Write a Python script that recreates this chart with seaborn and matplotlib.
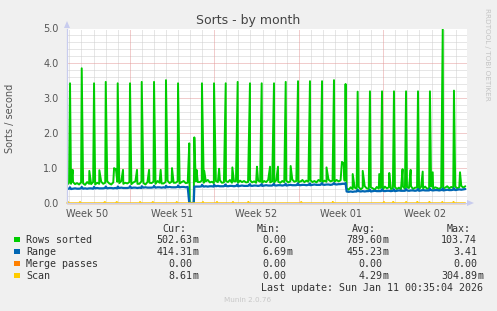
import numpy as np
import pandas as pd
import matplotlib
matplotlib.use("Agg")
import matplotlib.pyplot as plt
import seaborn as sns
from matplotlib.patches import Rectangle, Polygon

W, H = 497, 311

# ---------------- data (x in days from left edge) ----------------
x_end = 33.14
week_labels = ["Week 50", "Week 51", "Week 52", "Week 01", "Week 02"]
week_label_day = [1.7, 8.7, 15.7, 22.7, 29.7]
week_line_day = [5.2, 12.2, 19.2, 26.2]
day_line_day = [0.2 + k for k in range(33)]

# daily big spikes of "Rows sorted"
spike_day = [0.25, 1.22, 2.24, 3.21, 4.20, 5.22, 6.19, 7.21, 8.20, 9.20,
             10.13, 10.55, 11.18, 12.18, 13.15, 14.14, 15.16, 16.13, 17.15, 18.12,
             19.14, 20.13, 21.13, 22.12, 23.08, 24.08, 25.10, 26.10, 27.09, 28.09,
             29.08, 30.07, 31.13, 32.06]
spike_val = [3.43, 3.86, 3.43, 3.47, 3.43, 3.43, 3.47, 3.47, 3.52, 3.43,
             1.71, 1.88, 3.43, 3.43, 3.43, 3.47, 3.43, 3.43, 3.43, 3.47,
             3.49, 3.49, 3.49, 3.52, 3.41, 3.19, 3.20, 3.20, 3.20, 3.20,
             3.20, 3.20, 4.98, 3.22]
# "Range" value at the spike times
range_peak = [0.45, 0.46, 0.46, 0.47, 0.47, 0.48, 0.48, 0.49, 0.49, 0.50,
              0.00, 0.47, 0.52, 0.52, 0.53, 0.53, 0.54, 0.54, 0.55, 0.55,
              0.56, 0.56, 0.57, 0.57, 0.57, 0.38, 0.38, 0.39, 0.39, 0.40,
              0.40, 0.41, 0.41, 0.42]

# smaller secondary bumps of "Rows sorted"
bump_day = [0.47, 1.85, 2.68, 3.90, 4.05, 4.64, 5.80, 6.80, 7.76, 8.70,
            10.73, 11.37, 12.60, 13.70, 15.74, 16.82, 17.48, 18.53, 19.40, 21.50,
            22.78, 22.92, 23.67, 24.50, 25.87, 26.70, 27.80, 28.47, 29.47, 30.30,
            32.56]
bump_val = [0.95, 0.92, 0.94, 1.00, 0.98, 0.95, 0.95, 0.95, 0.95, 1.00,
            0.95, 0.92, 0.98, 1.02, 1.04, 1.04, 1.04, 1.06, 0.62, 1.02,
            1.18, 1.15, 0.83, 0.92, 0.83, 0.86, 0.97, 0.95, 0.90, 0.88,
            0.88]

# baseline readings, one row per day, every 4 hours
rows_base = [
    [0.52, 0.58, 0.55, 0.60, 0.54, 0.57],
    [0.53, 0.59, 0.56, 0.52, 0.60, 0.55],
    [0.54, 0.60, 0.53, 0.58, 0.55, 0.61],
    [0.55, 0.58, 0.62, 0.56, 0.53, 0.59],
    [0.97, 0.61, 0.57, 0.63, 0.55, 0.58],
    [0.56, 0.60, 0.54, 0.59, 0.62, 0.55],
    [0.55, 0.62, 0.57, 0.53, 0.60, 0.58],
    [0.57, 0.61, 0.55, 0.63, 0.58, 0.56],
    [0.56, 0.60, 0.64, 0.57, 0.61, 0.58],
    [0.58, 0.62, 0.56, 0.60, 0.63, 0.57],
    [0.58, 0.00, 0.00, 0.00, 0.62, 0.60],
    [0.60, 0.64, 0.58, 0.62, 0.66, 0.59],
    [0.61, 0.57, 0.63, 0.60, 0.65, 0.58],
    [0.59, 0.63, 0.60, 0.66, 0.58, 0.62],
    [0.62, 0.58, 0.64, 0.60, 0.63, 0.59],
    [0.60, 0.65, 0.59, 0.62, 0.58, 0.64],
    [0.61, 0.58, 0.63, 0.60, 0.66, 0.59],
    [0.62, 0.59, 0.65, 0.61, 0.58, 0.63],
    [0.60, 0.64, 0.59, 0.62, 0.67, 0.61],
    [0.63, 0.59, 0.62, 0.66, 0.60, 0.64],
    [0.61, 0.65, 0.60, 0.63, 0.59, 0.66],
    [0.62, 0.60, 0.64, 0.61, 0.67, 0.62],
    [0.64, 0.61, 0.66, 0.62, 0.65, 1.12],
    [0.64, 0.42, 0.38, 0.45, 0.40, 0.44],
    [0.41, 0.46, 0.39, 0.44, 0.48, 0.42],
    [0.40, 0.45, 0.42, 0.38, 0.46, 0.41],
    [0.43, 0.39, 0.47, 0.42, 0.45, 0.40],
    [0.42, 0.46, 0.40, 0.44, 0.39, 0.47],
    [0.41, 0.45, 0.43, 0.48, 0.40, 0.44],
    [0.44, 0.40, 0.46, 0.42, 0.47, 0.41],
    [0.42, 0.47, 0.41, 0.45, 0.43, 0.40],
    [0.45, 0.41, 0.44, 0.48, 0.42, 0.46],
    [0.43, 0.47, 0.42, 0.45, 0.49, 0.44],
    [0.48, 0.50],
]
range_base = [
    [0.40, 0.41, 0.40, 0.41, 0.42, 0.41],
    [0.41, 0.42, 0.41, 0.42, 0.41, 0.42],
    [0.42, 0.41, 0.42, 0.43, 0.42, 0.42],
    [0.42, 0.43, 0.42, 0.43, 0.43, 0.42],
    [0.43, 0.42, 0.43, 0.44, 0.43, 0.43],
    [0.43, 0.44, 0.43, 0.44, 0.44, 0.43],
    [0.44, 0.43, 0.44, 0.45, 0.44, 0.44],
    [0.44, 0.45, 0.44, 0.45, 0.45, 0.44],
    [0.45, 0.44, 0.45, 0.46, 0.45, 0.45],
    [0.45, 0.46, 0.45, 0.46, 0.46, 0.45],
    [0.46, 0.00, 0.00, 0.00, 0.47, 0.47],
    [0.47, 0.48, 0.47, 0.48, 0.47, 0.48],
    [0.48, 0.47, 0.48, 0.49, 0.48, 0.48],
    [0.48, 0.49, 0.48, 0.49, 0.49, 0.48],
    [0.49, 0.48, 0.49, 0.50, 0.49, 0.49],
    [0.49, 0.50, 0.49, 0.50, 0.50, 0.49],
    [0.50, 0.49, 0.50, 0.51, 0.50, 0.50],
    [0.50, 0.51, 0.50, 0.51, 0.51, 0.50],
    [0.51, 0.50, 0.51, 0.52, 0.51, 0.51],
    [0.51, 0.52, 0.51, 0.52, 0.52, 0.51],
    [0.52, 0.51, 0.52, 0.53, 0.52, 0.52],
    [0.52, 0.53, 0.52, 0.53, 0.53, 0.52],
    [0.53, 0.54, 0.53, 0.54, 0.54, 0.55],
    [0.55, 0.33, 0.32, 0.33, 0.32, 0.33],
    [0.33, 0.34, 0.33, 0.34, 0.33, 0.34],
    [0.34, 0.33, 0.34, 0.35, 0.34, 0.34],
    [0.34, 0.35, 0.34, 0.35, 0.35, 0.34],
    [0.35, 0.34, 0.35, 0.36, 0.35, 0.35],
    [0.35, 0.36, 0.35, 0.36, 0.36, 0.35],
    [0.36, 0.35, 0.36, 0.37, 0.36, 0.36],
    [0.36, 0.37, 0.36, 0.37, 0.37, 0.36],
    [0.37, 0.36, 0.37, 0.38, 0.37, 0.37],
    [0.38, 0.37, 0.38, 0.39, 0.38, 0.39],
    [0.40, 0.41],
]
scan_day = [0.08, 1.08, 3.15, 4.14, 6.05, 7.12, 9.10, 11.27, 12.43, 13.75,
            15.00, 19.40, 22.00, 26.26, 27.00, 28.10, 29.00, 30.00, 31.10, 32.00]
scan_val = [0.04] * len(scan_day)

legend_names = ["Rows sorted", "Range", "Merge passes", "Scan"]
legend_colors = ["#00CC00", "#0066B3", "#FF8000", "#FFCC00"]
cur_txt = ["502.63m", "414.31m", "0.00", "8.61m"]
min_txt = ["0.00", "6.69m", "0.00", "0.00"]
avg_txt = ["789.60m", "455.23m", "0.00", "4.29m"]
max_txt = ["103.74", "3.41", "0.00", "304.89m"]
last_update = "Last update: Sun Jan 11 00:35:04 2026"

# ---------------- build frames ----------------
def grid_times(rows):
    return [d + k / 6 for d, r in enumerate(rows) for k in range(len(r))]

def flat(rows):
    return [v for r in rows for v in r]

gt = grid_times(rows_base)
df_rows = pd.DataFrame({"t": gt + spike_day + bump_day,
                        "v": flat(rows_base) + spike_val + bump_val}).sort_values("t", kind="stable")
df_range = pd.DataFrame({"t": grid_times(range_base) + spike_day,
                         "v": flat(range_base) + range_peak}).sort_values("t", kind="stable")
df_merge = pd.DataFrame({"t": gt, "v": [0.0] * len(gt)})
df_scan = pd.DataFrame({"t": gt + scan_day,
                        "v": [0.0] * len(gt) + scan_val}).sort_values("t", kind="stable")
df_rows = df_rows[df_rows.t <= x_end]
df_range = df_range[df_range.t <= x_end]
df_merge = df_merge[df_merge.t <= x_end]
df_scan = df_scan[df_scan.t <= x_end]

# ---------------- figure ----------------
sns.set_theme(style="white")
plt.rcParams['font.family'] = ['DejaVu Sans']

fig = plt.figure(figsize=(W / 100, H / 100), dpi=100, facecolor="#F0F0F0")

def fx(x):
    return x / W

def fy(y):
    return 1 - y / H

ax = fig.add_axes([fx(67), fy(203), 400 / W, 174.5 / H])
ax.set_facecolor("white")
ax.set_xlim(0, x_end)
ax.set_ylim(0, 5)

# grid (dotted lines like rrdtool)
gkw = dict(lw=0.72, ls=(0, (1, 1)))
for v in np.arange(0.2, 5.01, 0.2):
    if abs(v - round(v)) < 1e-6:
        ax.axhline(v, color="#E59A9A", zorder=0.6, **gkw)
    else:
        ax.axhline(v, color="#CFCFCF", zorder=0.5, **gkw)
for d in day_line_day:
    if not any(abs(d - w) < 1e-6 for w in week_line_day):
        ax.axvline(d, color="#CFCFCF", zorder=0.5, **gkw)
for d in week_line_day:
    ax.axvline(d, color="#E59A9A", zorder=0.6, **gkw)

common = dict(x="t", y="v", ax=ax, sort=False, estimator=None, legend=False)
sns.lineplot(data=df_rows, color="#00CC00", lw=1.4, **common)
sns.lineplot(data=df_range, color="#0066B3", lw=1.6, **common)
sns.lineplot(data=df_merge, color="#FF8000", lw=1.0, **common)
sns.lineplot(data=df_scan, color="#FFCC00", lw=1.0, **common)
for ln in ax.lines[-2:]:
    ln.set_clip_on(False)

ax.set_xlabel("")
ax.set_ylabel("")
ax.set_yticks(np.arange(0, 5.01, 1.0))
ax.set_yticklabels([f"{v:.1f}" for v in np.arange(0, 5.01, 1.0)])
ax.set_yticks(np.arange(0, 5.01, 0.2), minor=True)
ax.set_xticks(week_label_day)
ax.set_xticklabels(week_labels)
ax.tick_params(axis="x", length=0, pad=4, labelsize=7, labelcolor="#555555")
ax.tick_params(axis="y", which="major", length=3, width=0.7, color="#CCCCCC",
               pad=3, labelsize=7, labelcolor="#555555", direction="out")
ax.tick_params(axis="y", which="minor", length=2, width=0.7, color="#CCCCCC", direction="out")
for s in ["top", "right"]:
    ax.spines[s].set_visible(False)
for s in ["left", "bottom"]:
    ax.spines[s].set_color("#C8CCEE")
    ax.spines[s].set_linewidth(0.9)

# axis arrows
def px_poly(pts, color):
    fig.patches.append(Polygon([(fx(a), fy(b)) for a, b in pts], closed=True,
                               transform=fig.transFigure, facecolor=color, edgecolor="none"))

px_poly([(64, 28), (70, 28), (67, 21)], "#C8CCEE")
px_poly([(467, 200), (467, 206), (474, 203)], "#C8CCEE")

# titles and side texts
fig.text(fx(248), fy(24), "Sorts - by month", ha="center", va="baseline",
         fontsize=9, color="#444444")
fig.text(fx(10.5), fy(118), "Sorts / second", rotation=90, ha="center", va="center",
         fontsize=7, color="#555555")
fig.text(fx(486.5), fy(54), "RRDTOOL / TOBI OETIKER", rotation=270, ha="center", va="center",
         fontsize=5.2, color="#C4C4C4")

# legend table
mono = "DejaVu Sans Mono"
fs = 7.2
tc = "#333333"
num_end = [192.7, 286.7, 382.3, 477.0]
heads = ["Cur:", "Min:", "Avg:", "Max:"]
for xe, hd in zip(num_end, heads):
    fig.text(fx(xe - 6), fy(231.5), hd, ha="right", va="baseline", family=mono, fontsize=fs, color=tc)

base_y = [243.3, 255.3, 267.3, 279.3]
cols = [cur_txt, min_txt, avg_txt, max_txt]
for i, name in enumerate(legend_names):
    by = base_y[i]
    fig.patches.append(Rectangle((fx(14), fy(by - 1)), 5.5 / W, 5.5 / H, transform=fig.transFigure,
                                 facecolor=legend_colors[i], edgecolor="none"))
    fig.text(fx(26), fy(by), name, ha="left", va="baseline", family=mono, fontsize=fs, color=tc)
    for xe, col in zip(num_end, cols):
        s = col[i]
        num = s.rstrip("m")
        unit = s[len(num):]
        fig.text(fx(xe), fy(by), num, ha="right", va="baseline", family=mono, fontsize=fs, color=tc)
        if unit:
            fig.text(fx(xe), fy(by), unit, ha="left", va="baseline", family=mono, fontsize=fs, color=tc)

fig.text(fx(483), fy(291), last_update, ha="right", va="baseline", family=mono, fontsize=fs, color=tc)
fig.text(fx(248), fy(300), "Munin 2.0.76", ha="center", va="center", fontsize=5.2, color="#C8C8C8")

fig.savefig("out.png", dpi=100, facecolor=fig.get_facecolor())
